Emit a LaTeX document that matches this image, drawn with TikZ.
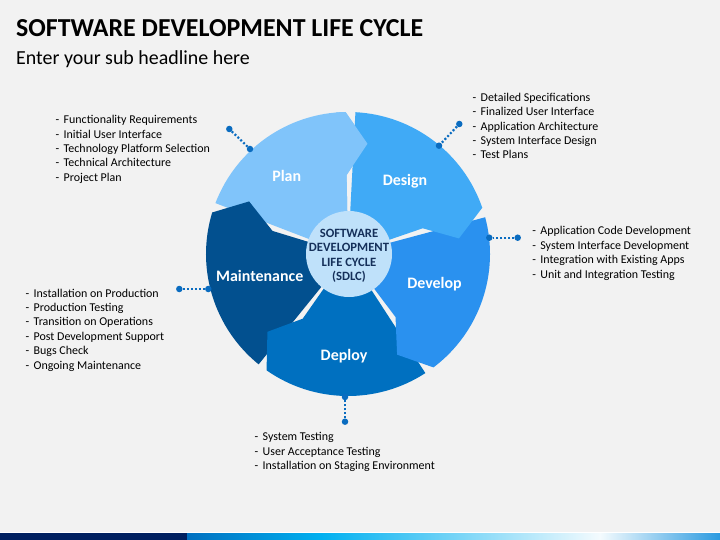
\documentclass[tikz,border=0pt]{standalone}
\usepackage{fontspec}
\setmainfont{Carlito}
\definecolor{bg}{HTML}{F2F2F2}
\definecolor{cplan}{HTML}{80C4FA}
\definecolor{cdesign}{HTML}{40AAF6}
\definecolor{cdevelop}{HTML}{2A91EF}
\definecolor{cdeploy}{HTML}{0070C0}
\definecolor{cmaint}{HTML}{02508F}
\definecolor{ccenter}{HTML}{BFE1FA}
\definecolor{ctext}{HTML}{15305A}
\definecolor{cdot}{HTML}{0A6CC0}
\definecolor{navy}{HTML}{002060}
\definecolor{gA}{HTML}{0070C0}
\definecolor{gB}{HTML}{00B0F0}
\definecolor{gC}{HTML}{F4FBFE}
\definecolor{gD}{HTML}{2A9AE0}
\newcommand\sdlcpiece[2]{%
  \fill[#2] ({#1}:30bp) -- ({#1}:79bp) -- ({#1-11}:112bp) -- ({#1}:142bp)
    arc[start angle={#1}, end angle={#1+68}, radius=142bp] -- ({#1+68}:30bp) -- cycle;}
\begin{document}
\begin{tikzpicture}[x=1bp,y=1bp,
  item/.style={anchor=base west, inner sep=0, font=\fontsize{12}{14}\selectfont, text=black},
  plabel/.style={anchor=base, inner sep=0, text=white, font=\bfseries\fontsize{16}{19}\selectfont},
  dot/.style={circle, fill=cdot, inner sep=0, minimum size=6.5bp},
  link/.style={cdot, line width=2.2bp, dash pattern=on 2bp off 2bp}]
\useasboundingbox (0,0) rectangle (720,-540);
\fill[bg] (0,0) rectangle (720,-540);
% title
\node[anchor=base west, inner sep=0, font=\bfseries\fontsize{26}{30}\selectfont] (title) at (16,-36.7) {SOFTWARE DEVELOPMENT LIFE CYCLE};
\node[anchor=base west, inner sep=0, font=\fontsize{20}{24}\selectfont] (subtitle) at (16,-65) {Enter your sub headline here};
% wheel
\begin{scope}[shift={(348,-254)}]
  \sdlcpiece{91}{cplan}
  \sdlcpiece{163}{cmaint}
  \sdlcpiece{235}{cdeploy}
  \sdlcpiece{307}{cdevelop}
  \sdlcpiece{19}{cdesign}
  \begin{scope}
    \clip (0,0) -- (74:150bp) arc[start angle=74, end angle=95, radius=150bp] -- cycle;
    \sdlcpiece{91}{cplan}
  \end{scope}
\end{scope}
\node[circle, fill=ccenter, minimum size=86bp, inner sep=0] (core) at (349,-254) {};
\node[text=ctext, align=center, inner sep=0, font=\bfseries\fontsize{12.7}{14.5}\selectfont] (coretext) at (349,-256) {SOFTWARE\\DEVELOPMENT\\LIFE CYCLE\\(SDLC)};
\node[plabel] (plan) at (286.7,-181.7) {Plan};
\node[plabel] (design) at (405,-186) {Design};
\node[plabel] (develop) at (434.5,-288.3) {Develop};
\node[plabel] (deploy) at (344,-360.7) {Deploy};
\node[plabel] (maint) at (259.7,-281.7) {Maintenance};
% connectors
\node[dot] (pa) at (229.3,-129) {};
\node[dot] (pb) at (250,-149) {};
\draw[link] (pa) -- (pb);
\node[dot] (da) at (459.3,-124) {};
\node[dot] (db) at (439,-145.7) {};
\draw[link] (da) -- (db);
\node[dot] (va) at (517.7,-237.7) {};
\node[dot] (vb) at (489.3,-237.7) {};
\draw[link] (va) -- (vb);
\node[dot] (ma) at (179.3,-289) {};
\node[dot] (mb) at (208.3,-289) {};
\draw[link] (ma) -- (mb);
\node[dot] (ya) at (345,-421.7) {};
\node[dot] (yb) at (345,-397) {};
\draw[link] (ya) -- (yb);
% lists
\foreach \t [count=\i] in {Functionality Requirements,Initial User Interface,Technology Platform Selection,Technical Architecture,Project Plan}
  \node[item] (planitem\i) at (55.5,{-124-14.3*(\i-1)}) {\makebox[8bp][l]{-}\t};
\foreach \t [count=\i] in {Detailed Specifications,Finalized User Interface,Application Architecture,System Interface Design,Test Plans}
  \node[item] (designitem\i) at (472.5,{-101.7-14.3*(\i-1)}) {\makebox[8bp][l]{-}\t};
\foreach \t [count=\i] in {Application Code Development,System Interface Development,Integration with Existing Apps,Unit and Integration Testing}
  \node[item] (developitem\i) at (532.2,{-235-14.4*(\i-1)}) {\makebox[8bp][l]{-}\t};
\foreach \t [count=\i] in {Installation on Production,Production Testing,Transition on Operations,Post Development Support,Bugs Check,Ongoing Maintenance}
  \node[item] (maintitem\i) at (25.5,{-297-14.45*(\i-1)}) {\makebox[8bp][l]{-}\t};
\foreach \t [count=\i] in {System Testing,User Acceptance Testing,Installation on Staging Environment}
  \node[item] (deployitem\i) at (254.5,{-440.7-14.5*(\i-1)}) {\makebox[8bp][l]{-}\t};
% bottom bar
\fill[white] (0,-531.5) rectangle (720,-533);
\fill[navy] (0,-533) rectangle (187,-540);
\shade[left color=gA, right color=gB] (187,-533) rectangle (321,-540);
\shade[left color=gB, right color=gC] (321,-533) rectangle (600,-540);
\shade[left color=gC, right color=gD] (600,-533) rectangle (720,-540);
\end{tikzpicture}
\end{document}
